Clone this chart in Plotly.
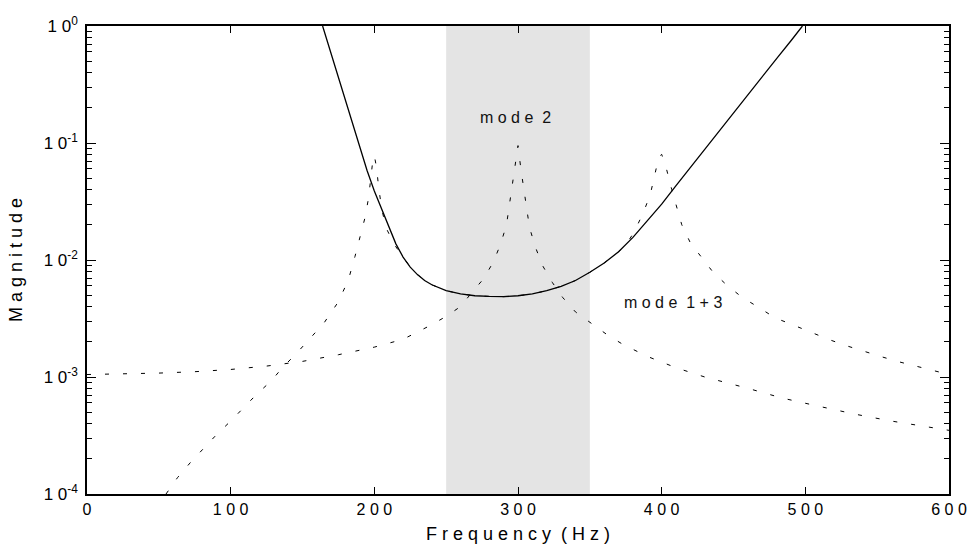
import plotly.graph_objects as go

# ---- data -------------------------------------------------------------
# combined response (solid)
freq_total = [164, 168, 171, 175, 178, 182, 185, 190, 195, 200, 205, 210, 215,
              220, 225, 230, 235, 240, 245, 250, 260, 270, 280, 290, 300, 310,
              320, 330, 340, 350, 360, 370, 380, 390, 400, 410, 420, 430, 440,
              450, 460, 470, 480, 490, 498]
mag_total = [1.0, 0.69, 0.53, 0.37, 0.28, 0.19, 0.145, 0.091, 0.058, 0.0389,
             0.0272, 0.0191, 0.01374, 0.0106, 0.0087, 0.0075, 0.00668,
             0.00614, 0.00575, 0.00547, 0.00513, 0.00495, 0.00488, 0.00486,
             0.00495, 0.00513, 0.00547, 0.00596, 0.00668, 0.00785, 0.00944,
             0.01175, 0.0156, 0.0214, 0.030, 0.0432, 0.0619, 0.089, 0.127,
             0.182, 0.26, 0.372, 0.527, 0.748, 1.0]

# mode 2 (single resonance near 300 Hz)
freq_mode2 = [0, 25, 50, 75, 100, 125, 150, 175, 200, 220, 240, 250, 260, 268,
              276, 283, 288, 292, 294, 296, 298, 300, 302, 304, 308, 312, 317,
              324, 331, 340, 351, 362, 373, 390, 410, 430, 460, 484, 510, 535,
              560, 587, 600]
mag_mode2 = [1.05e-3, 1.06e-3, 1.08e-3, 1.11e-3, 1.16e-3, 1.24e-3, 1.36e-3,
             1.55e-3, 1.80e-3, 2.1e-3, 2.8e-3, 3.3e-3, 4.0e-3, 5.3e-3, 6.9e-3,
             9.7e-3, 0.0138, 0.020, 0.029, 0.043, 0.062, 0.095, 0.060, 0.040,
             0.019, 0.013, 0.0090, 0.0064, 0.0048, 0.0036, 0.0029, 0.0023,
             0.0019, 0.00150, 0.00120, 0.00100, 0.00080, 0.00066, 0.00056,
             0.00048, 0.00042, 0.00037, 0.00035]

# modes 1 and 3 (resonances near 200 Hz and 400 Hz)
freq_mode13 = [55, 63, 72, 81, 90, 100, 109, 118, 128, 136, 146, 155, 165, 175,
               182, 186.5, 190, 193.5, 196, 199, 200, 201.5, 203, 205, 208, 214,
               220, 225, 230, 235, 240, 245, 250, 260, 270, 280, 290, 300, 310,
               320, 330, 340, 350, 360, 370, 376, 381, 387, 392, 395, 398, 400,
               403.5, 407, 410, 414, 420, 428, 436, 446, 456, 468, 479, 491,
               504, 516, 528, 540, 553, 565, 578, 590, 600]
mag_mode13 = [1.0e-4, 1.38e-4, 1.86e-4, 2.45e-4, 3.2e-4, 4.2e-4, 5.5e-4, 7.1e-4,
              9.2e-4, 1.2e-3, 1.6e-3, 2.1e-3, 2.9e-3, 4.4e-3, 6.8e-3, 0.0107,
              0.0156, 0.023, 0.034, 0.072, 0.078, 0.062, 0.042, 0.028, 0.019,
              0.0135, 0.0106, 0.0087, 0.0075, 0.00668, 0.00614, 0.00575,
              0.00547, 0.00513, 0.00495, 0.00488, 0.00486, 0.00495, 0.00513,
              0.00547, 0.00596, 0.00668, 0.00785, 0.00944, 0.01175, 0.0140,
              0.0175, 0.025, 0.036, 0.052, 0.076, 0.080, 0.059, 0.040, 0.029,
              0.020, 0.014, 0.0105, 0.0078, 0.0060, 0.0048, 0.0039, 0.0032,
              0.0028, 0.0024, 0.0021, 0.00186, 0.00166, 0.00149, 0.00135,
              0.00123, 0.00112, 0.00105]

# shaded frequency band
band = [250, 350]

x_ticks = [0, 100, 200, 300, 400, 500, 600]
x_ticktext = ["0", "1 0 0", "2 0 0", "3 0 0", "4 0 0", "5 0 0", "6 0 0"]
y_ticks = [1e-4, 1e-3, 1e-2, 1e-1, 1]
y_ticktext = ["1 0<sup>-4</sup>", "1 0<sup>-3</sup>", "1 0<sup>-2</sup>",
              "1 0<sup>-1</sup>", "1 0<sup>0</sup>"]

# ---- figure -----------------------------------------------------------
FONT = "Liberation Sans, Arial, sans-serif"
dash = "4px,14px"

fig = go.Figure()
fig.add_trace(go.Scatter(x=freq_mode2, y=mag_mode2, mode="lines",
                         line=dict(color="black", width=1, dash=dash)))
fig.add_trace(go.Scatter(x=freq_mode13, y=mag_mode13, mode="lines",
                         line=dict(color="black", width=1, dash=dash)))
fig.add_trace(go.Scatter(x=freq_total, y=mag_total, mode="lines",
                         line=dict(color="black", width=1.3)))

fig.add_shape(type="rect", xref="x", yref="paper", x0=band[0], x1=band[1],
              y0=0, y1=1, fillcolor="#e4e4e4", line=dict(width=0),
              layer="below")

fig.add_annotation(x=298, y=-0.786, text="m o d e  2", showarrow=False,
                   font=dict(family=FONT, size=16, color="#111"))
fig.add_annotation(x=408, y=-2.365, text="m o d e  1 + 3", showarrow=False,
                   font=dict(family=FONT, size=16, color="#111"))

minor_y = [k * 10.0 ** e for e in range(-4, 0) for k in range(2, 10)]

fig.update_xaxes(range=[0, 600], tickmode="array", tickvals=x_ticks,
                 ticktext=x_ticktext, ticks="inside", ticklen=7,
                 tickwidth=1.2, tickcolor="black", showline=True,
                 linecolor="black", linewidth=1.5, mirror="allticks",
                 showgrid=False, zeroline=False, automargin=False,
                 tickfont=dict(family=FONT, size=16, color="black"),
                 title=dict(text="F r e q u e n c y  ( H z )",
                            font=dict(family=FONT, size=18, color="black"),
                            standoff=10))
fig.update_yaxes(type="log", range=[-4, 0], tickmode="array",
                 tickvals=y_ticks, ticktext=y_ticktext, ticks="inside",
                 ticklen=9, tickwidth=1.2, tickcolor="black", showline=True,
                 linecolor="black", linewidth=1.5, mirror="allticks",
                 showgrid=False, zeroline=False, automargin=False,
                 minor=dict(tickmode="array", tickvals=minor_y,
                            ticks="inside", ticklen=5, tickwidth=1,
                            tickcolor="black", showgrid=False),
                 tickfont=dict(family=FONT, size=17, color="black"),
                 ticklabelstandoff=4,
                 title=dict(text="M a g n i t u d e",
                            font=dict(family=FONT, size=18, color="black"),
                            standoff=16))

fig.update_layout(width=971, height=544, showlegend=False,
                  plot_bgcolor="white", paper_bgcolor="white",
                  margin=dict(l=87, r=22, t=26, b=50))

fig.write_html("out.html")
